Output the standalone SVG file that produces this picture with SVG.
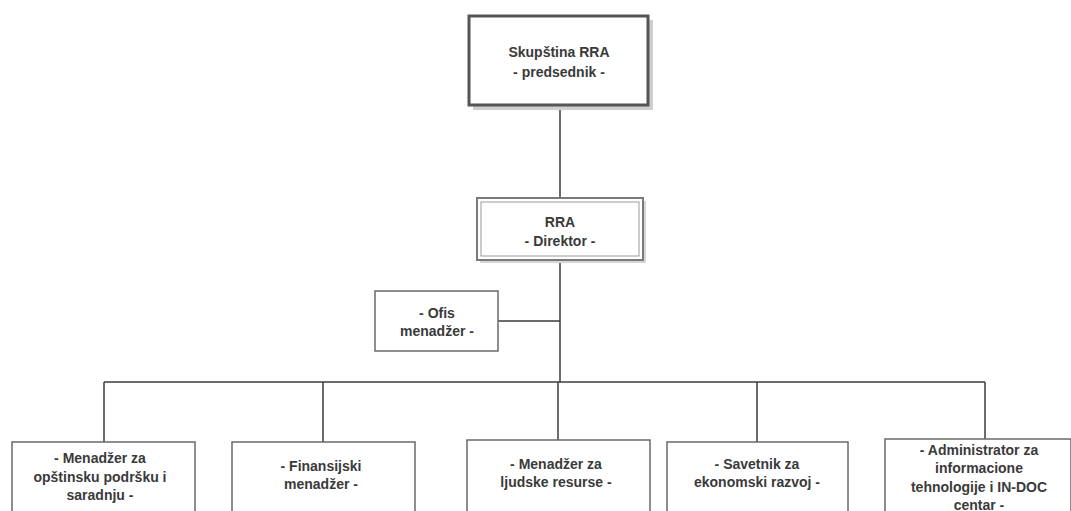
<svg xmlns="http://www.w3.org/2000/svg" width="1071" height="511" viewBox="0 0 1071 511">
<style>
text{font-family:"Liberation Sans",Arial,sans-serif;font-weight:bold;font-size:14px;fill:#3a3a3a;text-anchor:middle}
.box{fill:#fff;stroke:#6a6a6a;stroke-width:1.5}
.conn{stroke:#3c3c3c;stroke-width:1.5;fill:none}
</style>
<rect width="1071" height="511" fill="#fff"/>
<g id="connectors">
<path class="conn" d="M560 105V198M560 260V382M498 321H560M104 382H985M104 382V442M323 382V442M558 382V440M757 382V442M985 382V439"/>
</g>
<g id="skupstina">
<rect x="473" y="20" width="180" height="90" fill="#cfcfcf"/>
<rect x="469" y="16" width="179" height="89" fill="#fff" stroke="#555" stroke-width="3"/>
<text x="559" y="57">Skupština RRA</text>
<text x="559" y="77">- predsednik -</text>
</g>
<g id="direktor">
<rect x="480" y="201" width="166" height="62" fill="#d6d6d6"/>
<rect x="477" y="198" width="166" height="62" fill="#fff" stroke="#7a7a7a" stroke-width="2"/>
<rect x="481" y="202" width="158" height="54" fill="none" stroke="#9a9a9a" stroke-width="1"/>
<text x="560" y="227">RRA</text>
<text x="560" y="246">- Direktor -</text>
</g>
<g id="ofis">
<rect class="box" x="375" y="291" width="123" height="60"/>
<text x="437" y="318">- Ofis</text>
<text x="437" y="336">menadžer -</text>
</g>
<g id="menadzer-opstinska">
<rect class="box" x="12" y="442" width="183" height="70"/>
<text x="100" y="463">- Menadžer za</text>
<text x="100" y="482">opštinsku podršku i</text>
<text x="100" y="500">saradnju -</text>
</g>
<g id="finansijski">
<rect class="box" x="232" y="442" width="183" height="70"/>
<text x="321" y="471">- Finansijski</text>
<text x="321" y="489">menadžer -</text>
</g>
<g id="ljudski-resursi">
<rect class="box" x="467" y="440" width="183" height="72"/>
<text x="556" y="469">- Menadžer za</text>
<text x="556" y="487">ljudske resurse -</text>
</g>
<g id="savetnik">
<rect class="box" x="667" y="442" width="181" height="70"/>
<text x="757" y="469">- Savetnik za</text>
<text x="757" y="487">ekonomski razvoj -</text>
</g>
<g id="administrator">
<rect class="box" x="885" y="439" width="186" height="80"/>
<text x="979" y="455">- Administrator za</text>
<text x="979" y="473">informacione</text>
<text x="979" y="492">tehnologije i IN-DOC</text>
<text x="979" y="510">centar -</text>
</g>
</svg>
